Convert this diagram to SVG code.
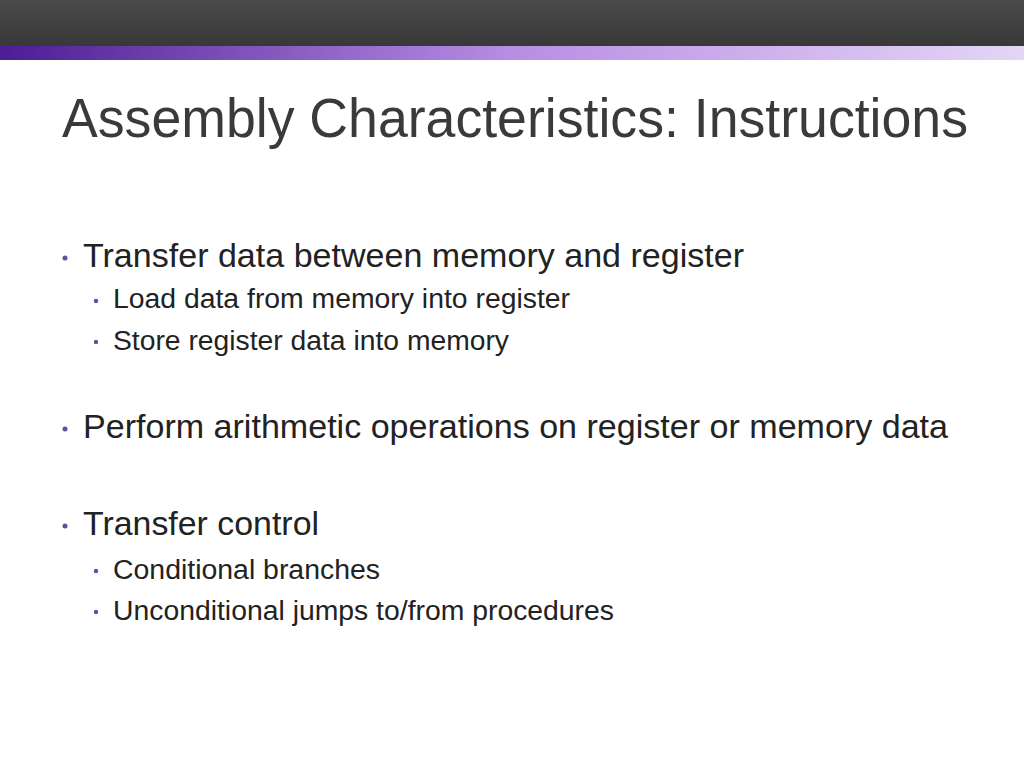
<svg xmlns="http://www.w3.org/2000/svg" width="1024" height="768" viewBox="0 0 1024 768">
<defs>
<linearGradient id="dark" x1="0" y1="0" x2="0" y2="1"><stop offset="0" stop-color="#4a4a4a"/><stop offset="1" stop-color="#383838"/></linearGradient>
<linearGradient id="purp" x1="0" y1="0" x2="1" y2="0"><stop offset="0" stop-color="#4e1c94"/><stop offset="0.5" stop-color="#b88de4"/><stop offset="1" stop-color="#e4d6f6"/></linearGradient>
<style>
text{font-family:"Liberation Sans",Arial,sans-serif;fill:#222}
.t{font-size:56px;fill:#3a3a3a}
.l1{font-size:33px}
.l2{font-size:27px}
.b{fill:#6a4a9a}
</style>
</defs>
<rect width="1024" height="768" fill="#fff"/>
<rect width="1024" height="46" fill="url(#dark)"/>
<rect y="46" width="1024" height="14" fill="url(#purp)"/>
<text class="t" x="62" y="137" textLength="906" lengthAdjust="spacingAndGlyphs">Assembly Characteristics: Instructions</text>
<circle class="b" cx="65" cy="258" r="2.5"/>
<text class="l1" x="83" y="267" textLength="661" lengthAdjust="spacingAndGlyphs">Transfer data between memory and register</text>
<circle class="b" cx="96" cy="301" r="2.2"/>
<text class="l2" x="113" y="308" textLength="457" lengthAdjust="spacingAndGlyphs">Load data from memory into register</text>
<circle class="b" cx="96" cy="342" r="2.2"/>
<text class="l2" x="113" y="350" textLength="396" lengthAdjust="spacingAndGlyphs">Store register data into memory</text>
<circle class="b" cx="65" cy="429" r="2.5"/>
<text class="l1" x="83" y="438" textLength="865" lengthAdjust="spacingAndGlyphs">Perform arithmetic operations on register or memory data</text>
<circle class="b" cx="65" cy="526" r="2.5"/>
<text class="l1" x="83" y="535" textLength="236" lengthAdjust="spacingAndGlyphs">Transfer control</text>
<circle class="b" cx="96" cy="571" r="2.2"/>
<text class="l2" x="113" y="579" textLength="267" lengthAdjust="spacingAndGlyphs">Conditional branches</text>
<circle class="b" cx="96" cy="612" r="2.2"/>
<text class="l2" x="113" y="620" textLength="501" lengthAdjust="spacingAndGlyphs">Unconditional jumps to/from procedures</text>
</svg>
